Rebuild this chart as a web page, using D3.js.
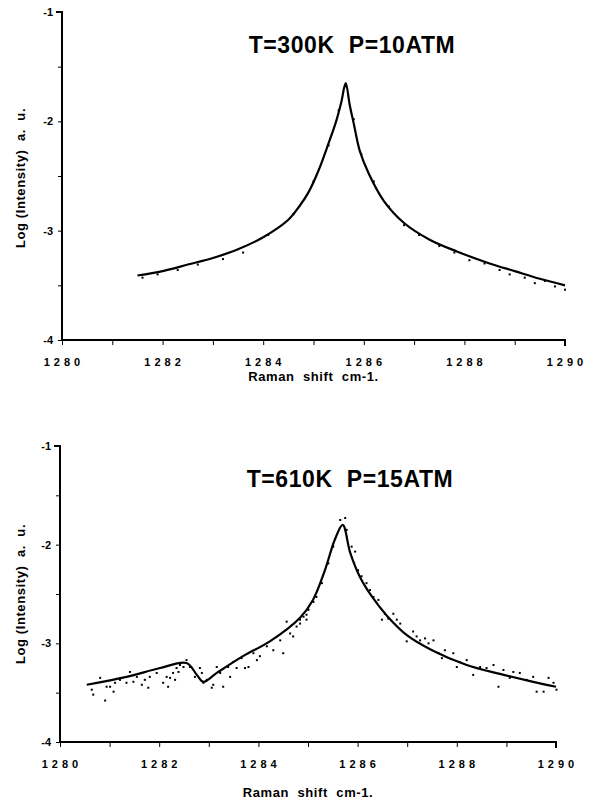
<!DOCTYPE html>
<html>
<head>
<meta charset="utf-8">
<script src="https://cdn.jsdelivr.net/npm/d3@7"></script>
<style>
  body { margin: 0; background: #fff; }
  svg { font-family: "Liberation Sans", Arial, Helvetica, sans-serif; }
  text { white-space: pre; }
  .tick-x { font-size: 11px; font-weight: bold; letter-spacing: 4px; }
  .tick-y { font-size: 11px; font-weight: bold; }
  .title { font-size: 23px; font-weight: bold; letter-spacing: 0.6px; }
  .axis-title { font-size: 13px; font-weight: bold; letter-spacing: 0.6px; }
</style>
</head>
<body>
<svg width="603" height="801"></svg>
<script>
// top panel: T=300K P=10ATM
const topFitX = [1281.5, 1282, 1282.5, 1283, 1283.5, 1284, 1284.5, 1284.73, 1284.9, 1285.1, 1285.3, 1285.45, 1285.55, 1285.64, 1285.72, 1285.8, 1285.92, 1286.1, 1286.4, 1286.8, 1287.3, 1287.85, 1288.5, 1289, 1289.5, 1290];
const topFitY = [-3.41, -3.37, -3.31, -3.25, -3.17, -3.06, -2.9, -2.77, -2.65, -2.45, -2.2, -2.0, -1.83, -1.65, -1.85, -2.02, -2.27, -2.48, -2.73, -2.93, -3.08, -3.19, -3.30, -3.37, -3.44, -3.50];
const topDotX = [1281.6, 1281.9, 1282.3, 1282.7, 1283.2, 1283.6, 1284.1, 1284.6, 1285.0, 1285.3, 1285.5, 1285.65, 1285.8, 1285.95, 1286.2, 1286.5, 1286.8, 1287.1, 1287.5, 1287.8, 1288.1, 1288.4, 1288.7, 1288.9, 1289.2, 1289.4, 1289.6, 1289.8, 1290.0];
const topDotY = [-3.43, -3.40, -3.36, -3.31, -3.26, -3.20, -3.04, -2.85, -2.55, -2.22, -1.90, -1.68, -1.98, -2.30, -2.55, -2.78, -2.95, -3.04, -3.14, -3.20, -3.27, -3.30, -3.36, -3.40, -3.43, -3.48, -3.46, -3.51, -3.54];

// bottom panel: T=610K P=15ATM
const botFitX = [1280.54, 1281.34, 1282.02, 1282.55, 1282.76, 1282.89, 1283.16, 1283.69, 1284.23, 1284.84, 1285.1, 1285.34, 1285.54, 1285.70, 1285.85, 1286.05, 1286.28, 1286.59, 1287.0, 1287.5, 1288.2, 1288.87, 1289.54, 1290.0];
const botFitY = [-3.42, -3.34, -3.25, -3.20, -3.32, -3.39, -3.30, -3.13, -2.98, -2.74, -2.56, -2.26, -1.95, -1.80, -2.08, -2.33, -2.52, -2.72, -2.92, -3.07, -3.22, -3.31, -3.39, -3.44];
const botDotX = [1280.64, 1280.67, 1280.81, 1280.91, 1280.94, 1281.01, 1281.08, 1281.11, 1281.21, 1281.34, 1281.41, 1281.48, 1281.55, 1281.65, 1281.71, 1281.78, 1281.81, 1281.95, 1282.02, 1282.08, 1282.15, 1282.18, 1282.22, 1282.28, 1282.32, 1282.35, 1282.39, 1282.42, 1282.49, 1282.55, 1282.62, 1282.72, 1282.82, 1282.86, 1282.89, 1282.96, 1283.06, 1283.09, 1283.16, 1283.23, 1283.29, 1283.39, 1283.43, 1283.49, 1283.56, 1283.66, 1283.73, 1283.80, 1283.90, 1283.97, 1284.03, 1284.17, 1284.30, 1284.44, 1284.50, 1284.57, 1284.64, 1284.70, 1284.77, 1284.84, 1284.91, 1284.97, 1285.01,
  1284.84, 1284.97, 1285.11, 1285.17, 1285.28, 1285.41, 1285.51, 1285.65, 1285.75, 1285.78, 1285.88, 1285.95, 1286.01, 1286.08, 1286.18, 1286.25, 1286.32, 1286.42, 1286.49, 1286.55, 1286.62, 1286.72, 1286.79, 1286.86, 1286.99, 1287.12, 1287.19, 1287.26, 1287.36, 1287.43, 1287.53, 1287.63, 1287.70, 1287.76, 1287.93, 1288.00, 1288.06, 1288.20, 1288.33, 1288.47, 1288.60, 1288.74, 1288.84, 1288.94, 1289.07, 1289.14, 1289.27, 1289.41, 1289.54, 1289.61, 1289.75, 1289.85, 1289.95, 1290.01];
const botDotY = [-3.47, -3.52, -3.35, -3.58, -3.44, -3.44, -3.49, -3.40, -3.37, -3.40, -3.29, -3.39, -3.34, -3.42, -3.37, -3.45, -3.34, -3.30, -3.25, -3.40, -3.34, -3.44, -3.35, -3.30, -3.37, -3.25, -3.29, -3.22, -3.24, -3.17, -3.24, -3.34, -3.25, -3.30, -3.40, -3.37, -3.45, -3.42, -3.24, -3.30, -3.44, -3.24, -3.34, -3.19, -3.25, -3.15, -3.25, -3.24, -3.10, -3.17, -3.13, -3.03, -3.07, -2.97, -3.10, -2.78, -2.90, -2.93, -2.83, -2.80, -2.73, -2.76, -2.66,
  -2.76, -2.71, -2.58, -2.53, -2.39, -2.19, -2.02, -1.75, -1.73, -1.85, -2.02, -2.07, -2.26, -2.32, -2.39, -2.46, -2.53, -2.56, -2.76, -2.70, -2.75, -2.70, -2.76, -2.80, -2.98, -2.88, -2.93, -2.97, -2.95, -3.00, -2.97, -3.10, -3.15, -3.07, -3.10, -3.24, -3.19, -3.17, -3.32, -3.24, -3.25, -3.22, -3.44, -3.27, -3.35, -3.29, -3.30, -3.37, -3.34, -3.49, -3.49, -3.35, -3.40, -3.47];

const xTicks = [1280, 1282, 1284, 1286, 1288, 1290];
const yTicks = [-1, -2, -3, -4];

const svg = d3.select("svg");

const panels = [
  { title: "T=300K  P=10ATM", fitX: topFitX, fitY: topFitY, dotX: topDotX, dotY: topDotY,
    x0: 62, x1: 565, yTop: 12, yBot: 340, titleX: 352, titleY: 53, xTitleY: 381, yTitleY: 178 },
  { title: "T=610K  P=15ATM", fitX: botFitX, fitY: botFitY, dotX: botDotX, dotY: botDotY,
    x0: 60, x1: 556, yTop: 446, yBot: 742, titleX: 350, titleY: 487, xTitleY: 797, yTitleY: 594 },
];

panels.forEach(p => {
  const x = d3.scaleLinear().domain([1280, 1290]).range([p.x0, p.x1]);
  const y = d3.scaleLinear().domain([-4, -1]).range([p.yBot, p.yTop]);
  const g = svg.append("g");

  // axes, minor ticks every unit / half unit
  const xAxis = d3.axisBottom(x).tickValues(d3.range(1280, 1290.5, 1)).tickSize(5).tickFormat("");
  g.append("g").attr("transform", `translate(0,${p.yBot})`).call(xAxis)
    .call(s => s.select(".domain").attr("d", `M${p.x0},0H${p.x1}V6`).attr("stroke-width", 2));

  const yAxis = d3.axisLeft(y).tickValues(d3.range(-4, -0.9, 0.5)).tickSize(4).tickFormat("");
  g.append("g").attr("transform", `translate(${p.x0},0)`).call(yAxis)
    .call(s => s.select(".domain").attr("d", `M-6,${p.yTop}H0V${p.yBot}`).attr("stroke-width", 2));

  g.selectAll(".tick-x-label")
    .data(xTicks).enter().append("text")
    .attr("class", "tick-x")
    .attr("x", d => x(d) + 2)
    .attr("y", p.yBot + 26)
    .attr("text-anchor", "middle")
    .text(d => d);

  g.selectAll(".tick-y-label")
    .data(yTicks).enter().append("text")
    .attr("class", "tick-y")
    .attr("x", p.x0 - 9)
    .attr("y", d => y(d) + 4)
    .attr("text-anchor", "end")
    .text(d => d);

  // measured points
  g.selectAll(".dot")
    .data(p.dotX.map((v, i) => [v, p.dotY[i]]))
    .enter().append("rect")
    .attr("x", d => x(d[0]) - 1)
    .attr("y", d => y(d[1]) - 1)
    .attr("width", 2)
    .attr("height", 2)
    .attr("fill", "#000");

  // fitted line
  const line = d3.line().x(d => x(d[0])).y(d => y(d[1])).curve(d3.curveCatmullRom.alpha(0.5));
  g.append("path")
    .datum(p.fitX.map((v, i) => [v, p.fitY[i]]))
    .attr("d", line)
    .attr("fill", "none")
    .attr("stroke", "#000")
    .attr("stroke-width", 2.2);

  g.append("text").attr("class", "title")
    .attr("x", p.titleX).attr("y", p.titleY)
    .attr("text-anchor", "middle")
    .text(p.title);

  g.append("text").attr("class", "axis-title")
    .attr("x", (p.x0 + p.x1) / 2).attr("y", p.xTitleY)
    .attr("text-anchor", "middle")
    .text("Raman  shift  cm-1.");

  g.append("text").attr("class", "axis-title")
    .attr("transform", `translate(25,${p.yTitleY}) rotate(-90)`)
    .attr("text-anchor", "middle")
    .text("Log (Intensity)  a.  u.");
});
</script>
</body>
</html>
